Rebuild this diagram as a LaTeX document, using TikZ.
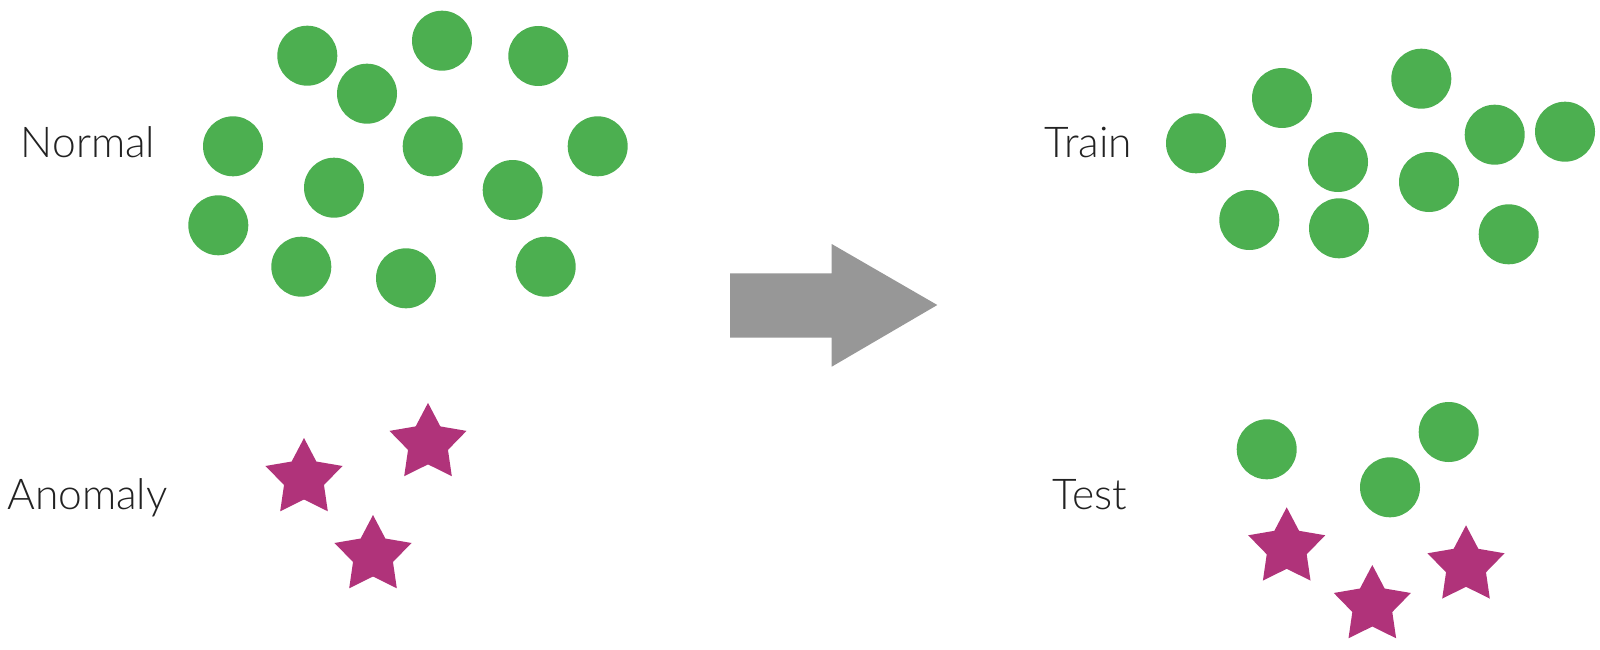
\documentclass[tikz,border=0pt]{standalone}
\usepackage{fontspec}
\IfFontExistsTF{Lato Light}{\setmainfont{Lato Light}}{\setmainfont{Fira Sans Light}}
\definecolor{dotgreen}{HTML}{4CAF50}
\definecolor{starpink}{HTML}{B0337A}
\definecolor{arrowgray}{HTML}{979797}
\definecolor{labelink}{HTML}{222222}
\tikzset{
  dot/.style={circle, fill=dotgreen, draw=none, inner sep=0pt, minimum size=60pt},
  lbl/.style={anchor=base, text=labelink, inner sep=0pt, font=\fontsize{42.5}{50}\selectfont},
  anomstar/.pic={
    \fill[starpink] (0,-40.5)
      \foreach \a/\r in {126/21,162/40.5,198/21,234/40.5,270/21,306/40.5,342/21,18/40.5,54/21}
        { -- ({\r*cos(\a)},{-\r*sin(\a)}) } -- cycle;
  }
}
\begin{document}
\begin{tikzpicture}[x=1pt,y=-1pt]
\useasboundingbox (0,0) rectangle (1600,650);
% labels
\node[lbl] (normal) at (88,157.7) {Normal};
\node[lbl] (anomaly) at (87.5,509) {Anomaly};
\node[lbl] (train) at (1088.5,157.7) {Train};
\node[lbl] (test) at (1090,509) {Test};
% left normal dots
\node[dot] (n1) at (307.3,55.7) {};
\node[dot] (n2) at (442,40.7) {};
\node[dot] (n3) at (538.3,56) {};
\node[dot] (n4) at (367,93.7) {};
\node[dot] (n5) at (233,146.3) {};
\node[dot] (n6) at (432.7,146.3) {};
\node[dot] (n7) at (597.7,146.3) {};
\node[dot] (n8) at (334,187.7) {};
\node[dot] (n9) at (512.7,190) {};
\node[dot] (n10) at (218.3,225.3) {};
\node[dot] (n11) at (301.3,266.7) {};
\node[dot] (n12) at (406,278.3) {};
\node[dot] (n13) at (545.7,266.7) {};
% left anomaly stars
\pic (a1) at (304,478.5) {anomstar};
\pic (a2) at (428,443.4) {anomstar};
\pic (a3) at (373,555.5) {anomstar};
% arrow
\fill[arrowgray] (730,273.3) -- (831.7,273.3) -- (831.7,244) -- (937.3,305)
  -- (831.7,366.7) -- (831.7,337.7) -- (730,337.7) -- cycle;
% train dots
\node[dot] (t1) at (1282,98) {};
\node[dot] (t2) at (1421.3,78.7) {};
\node[dot] (t3) at (1196,143.3) {};
\node[dot] (t4) at (1338,162) {};
\node[dot] (t5) at (1494.7,134.7) {};
\node[dot] (t6) at (1565,131.7) {};
\node[dot] (t7) at (1429,182) {};
\node[dot] (t8) at (1249.3,220) {};
\node[dot] (t9) at (1339,228.3) {};
\node[dot] (t10) at (1508.7,234.3) {};
% test dots
\node[dot] (s1) at (1266.7,449.3) {};
\node[dot] (s2) at (1448.7,432) {};
\node[dot] (s3) at (1390,487.3) {};
% test stars
\pic (b1) at (1286.7,547.8) {anomstar};
\pic (b2) at (1372.3,605.5) {anomstar};
\pic (b3) at (1466,565.8) {anomstar};
\end{tikzpicture}
\end{document}
